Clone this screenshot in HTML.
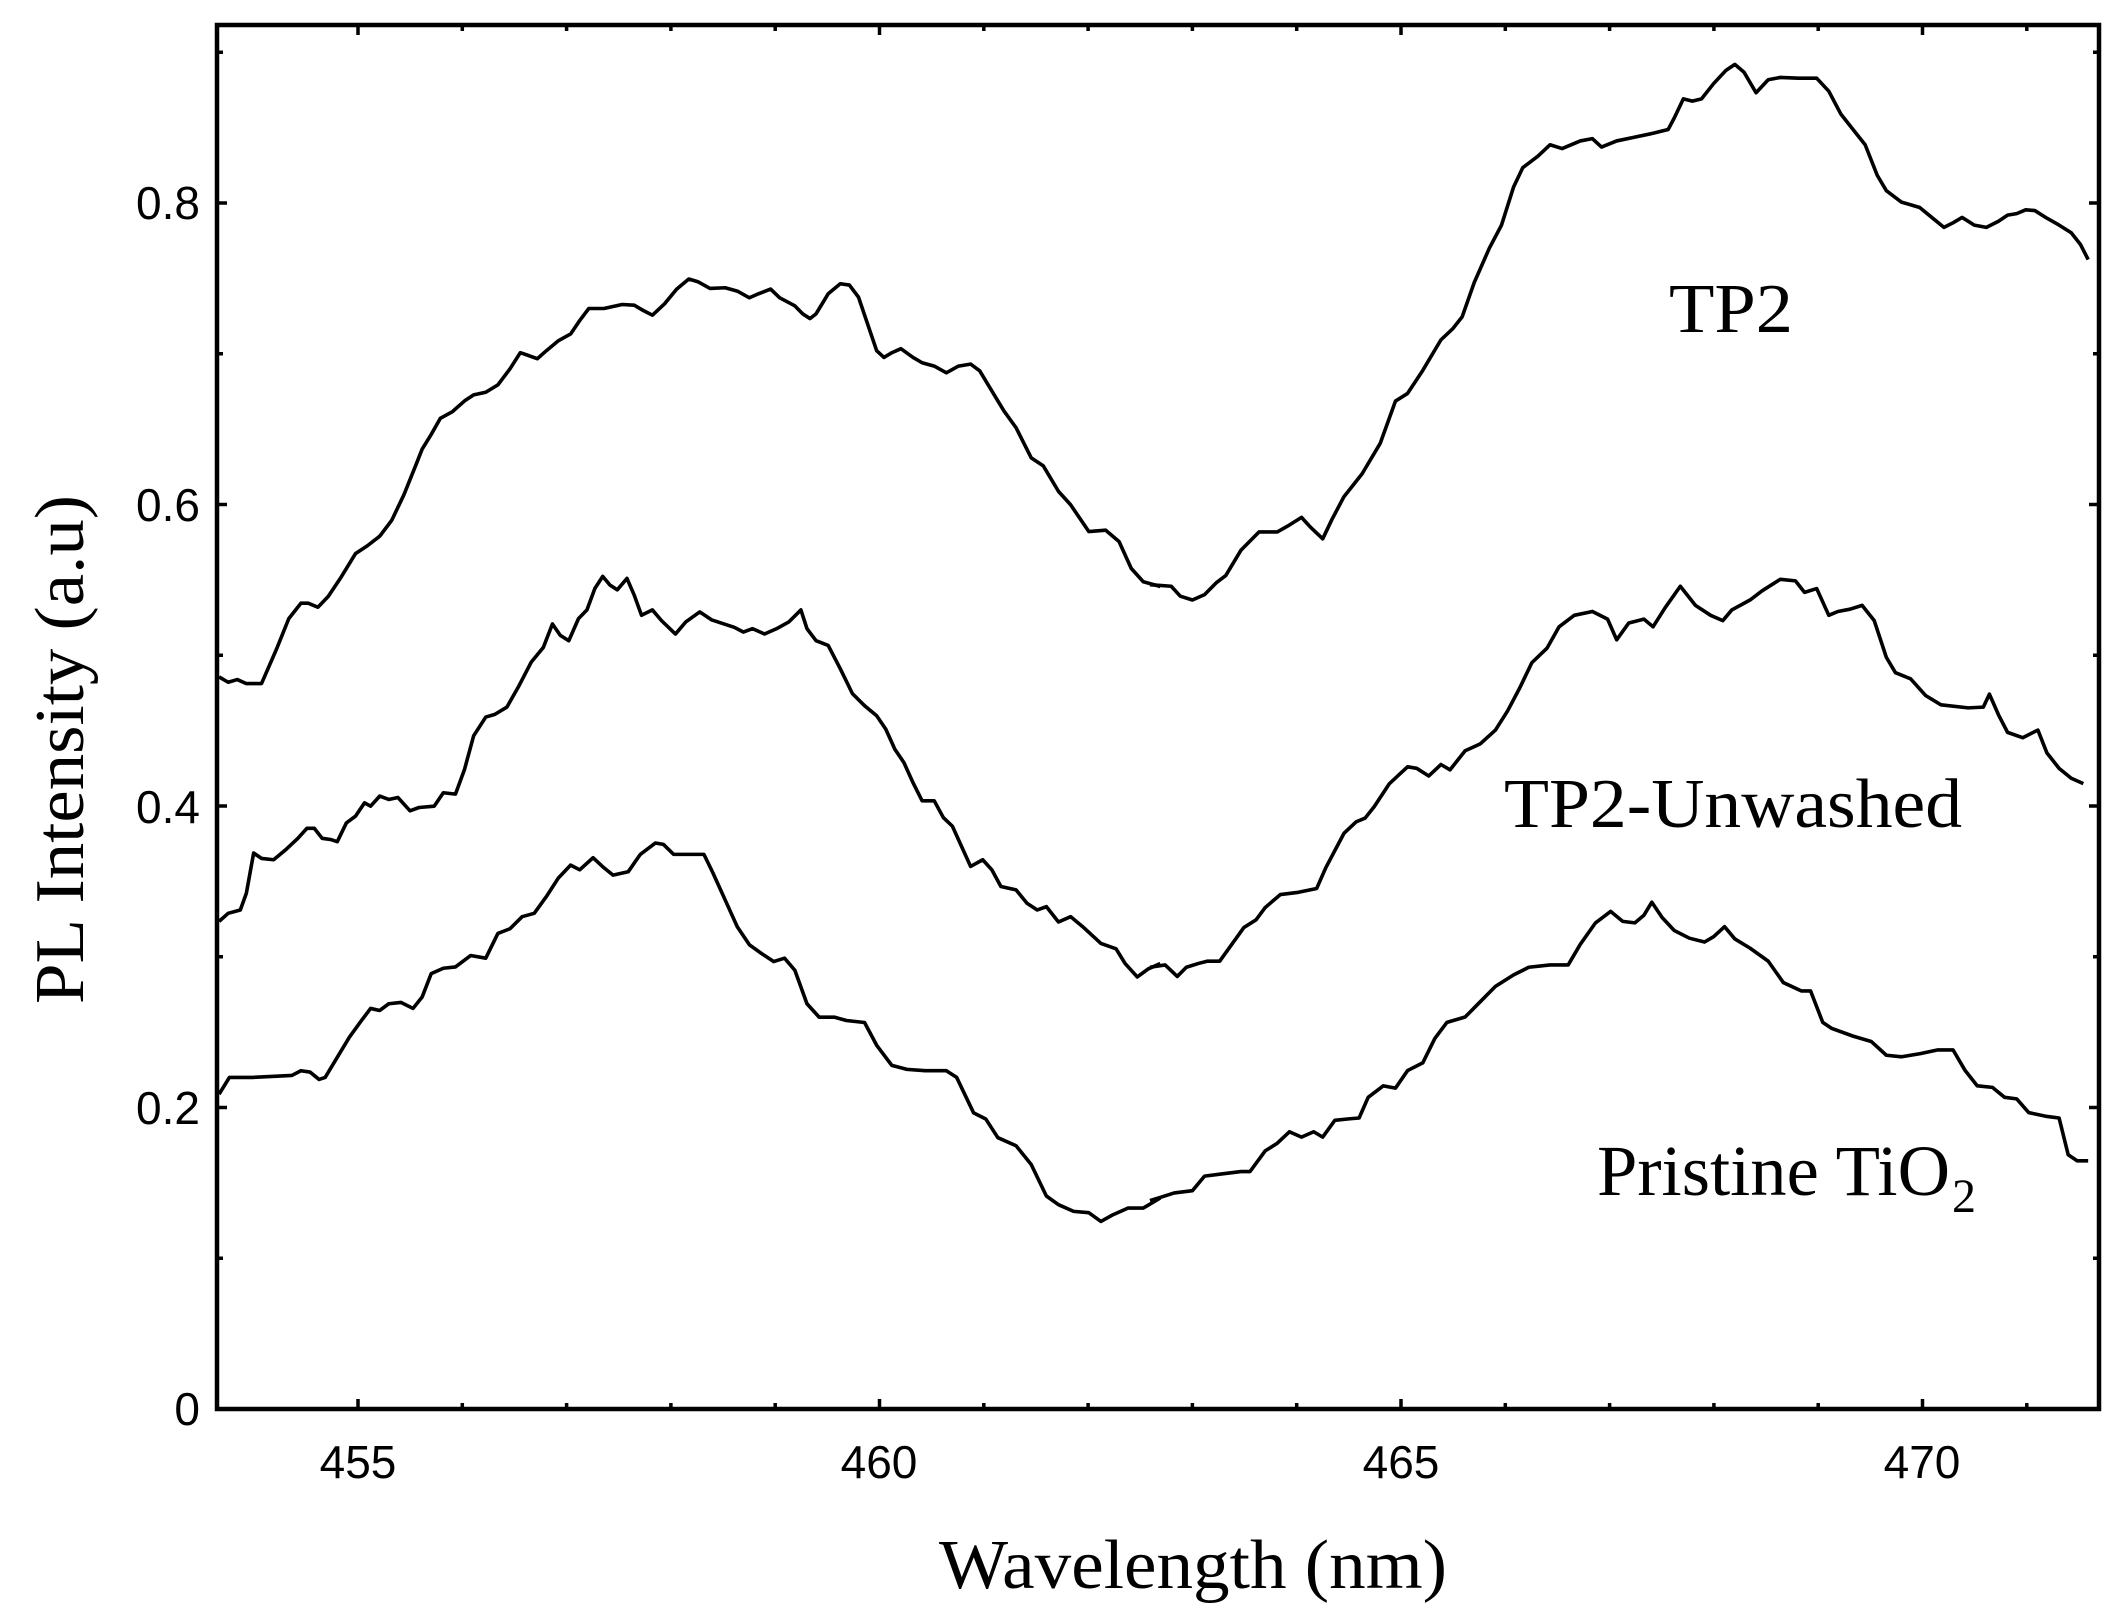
<!DOCTYPE html>
<html><head><meta charset="utf-8"><style>
html,body{margin:0;padding:0;background:#fff;}
svg{display:block;}
</style></head><body>
<svg width="2125" height="1623" viewBox="0 0 2125 1623" xmlns="http://www.w3.org/2000/svg">
<rect width="2125" height="1623" fill="#fff"/>
<g id="ticks" stroke="#000" stroke-width="3.5"></g>
<rect x="217" y="25" width="1882" height="1384" fill="none" stroke="#000" stroke-width="4.5"/>
<g fill="none" stroke="#000" stroke-width="3.6" stroke-linejoin="round">
<g transform="translate(210,200) scale(0.60606,0.66979)">
<polyline vector-effect="non-scaling-stroke" points="15,712 30,720 45,716 60,722 85,722 110,670 130,625 150,602 162,602 178,608 195,592 215,565 240,528 260,516 280,502 300,478 320,440 340,395 350,372 365,350 380,326 400,316 420,300 435,291 455,287 475,276 495,252 512,228 525,232 540,237 555,225 575,210 595,200 610,180 625,162 650,162 680,156 700,157 715,165 730,172 750,155 770,133 790,118 805,122 825,132 850,131 870,136 890,146 905,140 925,133 940,146 965,158 978,170 990,177 1000,170 1020,140 1040,125 1055,127 1070,145 1085,185 1100,225 1112,235 1125,228 1140,222 1160,235 1175,243 1195,248 1215,258 1235,248 1255,245 1270,255 1290,285 1310,315 1330,340 1355,385 1375,397 1400,435 1420,455 1450,495 1478,493 1500,510 1520,550 1540,570 1568,577"/>
<polyline vector-effect="non-scaling-stroke" points="15,1077 30,1065 50,1060 60,1035 72,975 85,983 105,985 125,970 145,953 160,938 172,938 185,953 200,955 210,958 225,930 240,920 255,900 265,905 280,890 295,895 310,892 330,912 345,907 370,905 385,885 405,887 420,850 435,800 455,772 470,768 490,757 510,725 530,690 550,668 565,633 578,650 592,658 608,625 622,612 635,580 648,562 660,575 672,582 688,565 700,590 712,620 730,612 745,628 768,648 785,630 808,615 828,627 848,633 865,638 880,645 895,640 915,648 935,640 955,630 975,612 985,640 1000,658 1020,665 1040,700 1060,737 1080,755 1100,770 1115,790 1130,820 1145,840 1160,870 1175,897 1195,897 1210,922 1225,935 1240,965 1255,995 1275,985 1290,1000 1305,1025 1330,1030 1348,1050 1365,1060 1380,1055 1400,1078 1420,1070 1440,1085 1470,1110 1495,1118 1510,1140 1530,1160 1548,1148 1568,1140"/>
<polyline vector-effect="non-scaling-stroke" points="15,1335 32,1310 70,1310 135,1307 150,1300 165,1302 180,1313 190,1310 210,1280 230,1250 250,1225 265,1207 280,1210 295,1200 315,1198 335,1207 350,1190 365,1155 385,1147 405,1145 430,1128 455,1132 475,1095 495,1088 515,1070 535,1065 555,1040 575,1012 595,993 610,1000 632,982 650,997 665,1008 690,1003 710,977 735,960 748,962 765,977 790,977 815,977 830,1005 850,1045 870,1085 890,1112 910,1125 930,1137 948,1132 965,1150 985,1200 1005,1220 1030,1220 1050,1225 1080,1228 1100,1262 1125,1292 1150,1298 1180,1300 1215,1300 1232,1310 1260,1363 1280,1372 1300,1400 1330,1412 1355,1440 1380,1487 1400,1500 1425,1510 1450,1512 1470,1525 1490,1515 1515,1505 1540,1505 1568,1490"/>
</g>
<g transform="translate(1150,30) scale(0.60606,0.76511)">
<polyline vector-effect="non-scaling-stroke" points="0,725 35,727 50,740 70,745 90,738 110,722 125,713 150,680 180,656 210,656 230,647 250,637 265,650 285,665 300,640 320,610 350,580 380,540 405,485 425,475 450,445 480,405 500,390 515,375 535,330 560,285 580,255 600,205 615,180 640,165 660,150 680,155 710,145 730,142 745,153 770,145 800,140 830,135 855,130 865,115 880,90 895,93 910,90 930,70 950,53 965,45 980,55 1000,82 1020,65 1040,62 1070,63 1100,63 1120,80 1140,110 1160,130 1180,150 1200,190 1215,210 1240,225 1270,232 1290,245 1310,258 1325,252 1340,245 1360,255 1380,258 1400,250 1415,242 1430,240 1445,235 1460,236 1480,246 1500,255 1520,265 1535,280 1548,300"/>
<polyline vector-effect="non-scaling-stroke" points="0,1225 25,1222 45,1237 60,1225 80,1220 95,1217 115,1217 135,1195 155,1173 175,1163 190,1147 215,1130 245,1127 275,1122 290,1095 320,1050 340,1035 355,1030 370,1015 395,985 425,963 440,965 460,975 480,960 495,967 520,942 545,933 570,915 590,890 610,860 630,827 655,808 675,780 700,765 730,760 755,770 770,797 790,775 815,770 830,780 850,755 875,727 900,752 925,765 945,772 960,758 990,745 1010,733 1040,718 1065,720 1080,735 1100,730 1120,765 1135,760 1155,757 1175,752 1195,772 1215,820 1230,840 1255,848 1280,870 1305,882 1350,886 1375,885 1385,868 1400,895 1415,918 1440,925 1465,915 1480,945 1500,965 1520,978 1540,985"/>
<polyline vector-effect="non-scaling-stroke" points="0,1530 20,1525 40,1520 70,1517 90,1498 120,1495 150,1492 165,1492 190,1465 210,1455 230,1440 250,1447 270,1440 285,1447 305,1425 330,1423 345,1422 360,1395 385,1380 405,1383 425,1360 450,1350 470,1318 490,1297 520,1290 545,1270 570,1250 600,1235 625,1225 660,1222 690,1222 710,1195 735,1167 760,1152 780,1165 800,1167 815,1157 828,1140 845,1160 865,1177 890,1187 915,1192 930,1185 948,1172 965,1188 990,1200 1020,1217 1045,1245 1075,1256 1090,1256 1110,1297 1125,1305 1160,1315 1190,1322 1215,1340 1240,1342 1270,1338 1300,1333 1325,1333 1345,1360 1365,1380 1390,1382 1410,1395 1430,1397 1450,1415 1480,1420 1500,1422 1515,1470 1530,1478 1548,1478"/>
</g>
</g>
<g font-family="Liberation Sans, sans-serif" font-size="46" fill="#000">
<text x="200" y="1425" text-anchor="end">0</text>
<text x="200" y="1124" text-anchor="end">0.2</text>
<text x="200" y="823" text-anchor="end">0.4</text>
<text x="200" y="521" text-anchor="end">0.6</text>
<text x="200" y="219" text-anchor="end">0.8</text>
<text x="358" y="1478" text-anchor="middle">455</text>
<text x="879" y="1478" text-anchor="middle">460</text>
<text x="1401" y="1478" text-anchor="middle">465</text>
<text x="1922" y="1478" text-anchor="middle">470</text>
</g>
<g font-family="Liberation Serif, serif" fill="#000">
<text x="939" y="1588" font-size="70" textLength="508" lengthAdjust="spacingAndGlyphs">Wavelength (nm)</text>
<text transform="translate(83,1004) rotate(-90)" font-size="70" textLength="509" lengthAdjust="spacingAndGlyphs">PL Intensity (a.u)</text>
<text x="1669" y="332" font-size="70" textLength="124" lengthAdjust="spacingAndGlyphs">TP2</text>
<text x="1504" y="827" font-size="70" textLength="458" lengthAdjust="spacingAndGlyphs">TP2-Unwashed</text>
<text x="1597" y="1195" font-size="72" textLength="353" lengthAdjust="spacingAndGlyphs">Pristine TiO</text>
<text x="1952" y="1212" font-size="48">2</text>
</g>
<script>
(function(){
var g=document.getElementById('ticks'),ns='http://www.w3.org/2000/svg';
function L(x1,y1,x2,y2){var l=document.createElementNS(ns,'line');l.setAttribute('x1',x1);l.setAttribute('y1',y1);l.setAttribute('x2',x2);l.setAttribute('y2',y2);g.appendChild(l);}
for(var w=455;w<=471;w++){var x=358+104.3*(w-455);var len=(w%5==0)?10:6;L(x,1409,x,1409-len);L(x,25,x,25+len);}
for(var i=0;i<=9;i++){var y=1409-150.75*i;var len=(i%2==0)?10:6;L(217,y,217+len,y);L(2099,y,2099-len,y);}
})();
</script>
</svg>
</body></html>
